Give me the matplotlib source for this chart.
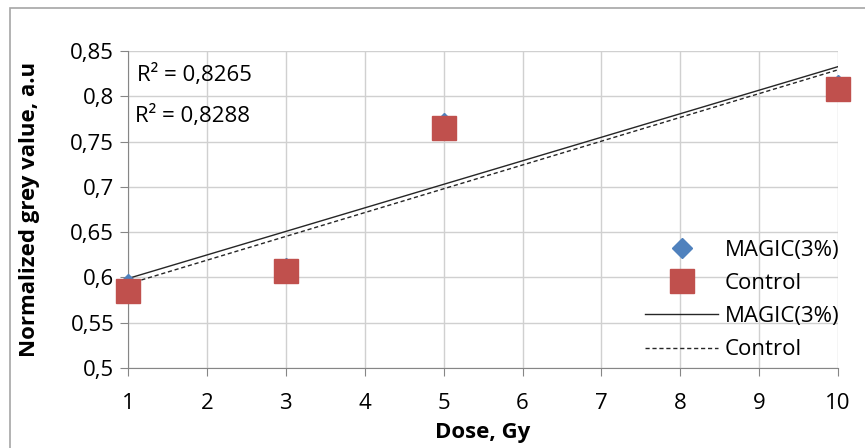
import numpy as np
import matplotlib.pyplot as plt
from matplotlib.patches import Rectangle

plt.rcParams['font.family'] = ['Open Sans', 'DejaVu Sans']

dose = [1, 3, 5, 10]
magic = [0.593, 0.610, 0.770, 0.812]
control = [0.585, 0.607, 0.765, 0.808]
r2_labels = ['R² = 0,8265', 'R² = 0,8288']
yticks = [0.5, 0.55, 0.6, 0.65, 0.7, 0.75, 0.8, 0.85]
ytick_labels = ['0,5', '0,55', '0,6', '0,65', '0,7', '0,75', '0,8', '0,85']
xticks = list(range(1, 11))

fig = plt.figure(figsize=(8.65, 4.48), dpi=100)
ax = fig.add_axes([0.148, 0.179, 0.821, 0.707])

# outer chart border
fig.patches.append(Rectangle((10/865, -0.1), 1.0, 1 - 8/448 + 0.1, transform=fig.transFigure,
                             fill=False, ec='#a6a6a6', lw=1.2))

fs = 16
xs = np.array([1, 10])
k1, b1 = np.polyfit(dose, magic, 1)
k2, b2 = np.polyfit(dose, control, 1)
ax.plot(xs, k1*xs + b1, c='#262626', lw=1.0, label='MAGIC(3%)', zorder=3)
ax.plot(xs, k2*xs + b2, c='#262626', lw=1.0, ls=(0, (3, 2)), label='Control', zorder=3)
ax.plot(dose, magic, 'D', ms=10, c='#4f81bd', ls='none', label='MAGIC(3%)', zorder=4, clip_on=False)
ax.plot(dose, control, 's', ms=17, c='#c0504d', mec='#c0504d', ls='none', label='Control',
        zorder=5, clip_on=False)

ax.set_xlim(1, 10)
ax.set_ylim(0.5, 0.85)
ax.set_xticks(xticks)
ax.set_yticks(yticks)
ax.set_yticklabels(ytick_labels)
ax.tick_params(labelsize=fs, color='#868686', length=6)
ax.tick_params(axis='x', pad=12)
ax.tick_params(axis='y', pad=4)
ax.grid(True, color='#d0d0d0', lw=1)
ax.set_axisbelow(True)
for s in ['top', 'right']:
    ax.spines[s].set_visible(False)
for s in ['left', 'bottom']:
    ax.spines[s].set_color('#868686')

ax.set_xlabel('Dose, Gy', fontsize=fs, fontweight='bold', labelpad=6)
ax.set_ylabel('Normalized grey value, a.u', fontsize=fs, fontweight='bold', labelpad=22)

ax.text(0.012, 0.925, r2_labels[0], transform=ax.transAxes, fontsize=fs, va='center')
ax.text(0.010, 0.795, r2_labels[1], transform=ax.transAxes, fontsize=fs, va='center')

h, l = ax.get_legend_handles_labels()
order = [2, 3, 0, 1]
leg = ax.legend([h[i] for i in order], [l[i] for i in order], frameon=False, fontsize=fs,
                loc='lower right', bbox_to_anchor=(1.03, -0.04), handlelength=3.3,
                handletextpad=0.3, labelspacing=0.55)

fig.savefig('out.png', dpi=100)
